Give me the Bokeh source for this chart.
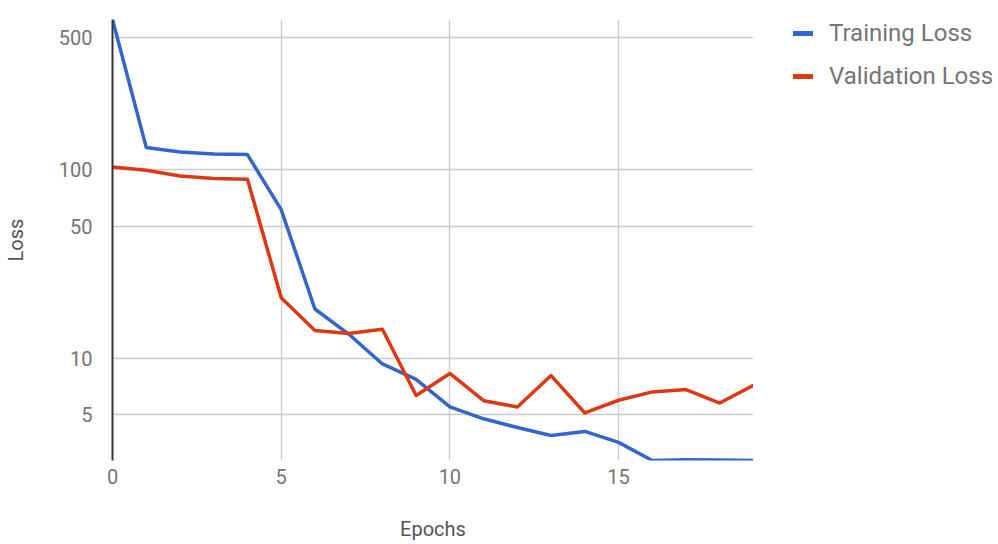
from bokeh.plotting import figure
from bokeh.layouts import row
from bokeh.models import Range1d, FixedTicker, Legend, LegendItem
from bokeh.embed import file_html
from bokeh.resources import INLINE

epochs = list(range(20))
training_loss = [625, 131, 124, 121, 120, 61.3, 18.2, 13.4, 9.3, 7.7,
                 5.5, 4.76, 4.28, 3.88, 4.08, 3.57, 2.86, 2.89, 2.88, 2.86]
validation_loss = [103, 99, 92.4, 89.5, 88.8, 20.9, 14.0, 13.5, 14.2, 6.33,
                   8.28, 5.94, 5.50, 8.07, 5.11, 5.97, 6.61, 6.80, 5.77, 7.17]
series_names = ["Training Loss", "Validation Loss"]
series_colors = ["#3366cc", "#dc3912"]
x_ticks = [0, 5, 10, 15]
y_ticks = [5, 10, 50, 100, 500]
y_tick_labels = ["5", "10", "50", "100", "500"]

FONT = "Roboto"
TXT = "#757575"

lo = min(training_loss + validation_loss)
hi = max(training_loss + validation_loss)

p = figure(width=753, height=544, output_backend="svg", toolbar_location=None,
           title=None,
           y_axis_type="log", x_range=Range1d(0, 19), y_range=Range1d(lo, hi),
           min_border_left=112, min_border_right=0, min_border_top=19,
           min_border_bottom=84)
p.outline_line_color = None

p.line(epochs, training_loss, line_color=series_colors[0], line_width=3.5, line_join="round")
p.line(epochs, validation_loss, line_color=series_colors[1], line_width=3.5, line_join="round")

p.xaxis.ticker = FixedTicker(ticks=x_ticks)
p.yaxis.ticker = FixedTicker(ticks=y_ticks)
p.yaxis.major_label_overrides = {t: l for t, l in zip(y_ticks, y_tick_labels)}
p.xaxis.axis_label = "Epochs"
p.yaxis.axis_label = "Loss"

for ax in (p.xaxis, p.yaxis):
    ax.major_tick_line_color = None
    ax.minor_tick_line_color = None
    ax.major_label_text_font = FONT
    ax.major_label_text_font_size = "20px"
    ax.major_label_text_color = TXT
    ax.axis_label_text_font = FONT
    ax.axis_label_text_font_size = "20px"
    ax.axis_label_text_color = "#555555"
    ax.axis_label_text_font_style = "normal"

p.xaxis.axis_line_color = None
p.yaxis.axis_line_color = "#333333"
p.yaxis.axis_line_width = 2
p.xaxis.major_label_standoff = 2
p.yaxis.major_label_standoff = 14
p.xaxis.axis_label_standoff = 30
p.yaxis.axis_label_standoff = 28

p.xgrid.ticker = FixedTicker(ticks=x_ticks)
p.ygrid.ticker = FixedTicker(ticks=y_ticks)
p.grid.grid_line_color = "#cccccc"
p.grid.grid_line_width = 1.5
p.ygrid.minor_grid_line_color = None

# legend panel to the right of the plot area (its lines fall outside its
# range, so only the legend entries show)
lg = figure(width=245, height=544, output_backend="svg", toolbar_location=None,
            title=None,
            x_range=Range1d(0, 1), y_range=Range1d(0, 1),
            min_border_left=40, min_border_right=0, min_border_top=0,
            min_border_bottom=0, x_axis_location=None, y_axis_location=None)
lg.outline_line_color = None
lg.grid.visible = False
items = []
for name, color, vals in zip(series_names, series_colors,
                             [training_loss, validation_loss]):
    rr = lg.line(epochs, vals, line_color=color, line_width=5, line_cap="round")
    items.append(LegendItem(label=name, renderers=[rr]))

legend = Legend(items=items, location="top_left")
legend.background_fill_alpha = 0
legend.border_line_color = None
legend.label_text_font = FONT
legend.label_text_font_size = "24px"
legend.label_text_color = TXT
legend.glyph_width = 20
legend.glyph_height = 22
legend.label_height = 22
legend.spacing = 15
legend.label_standoff = 16
legend.padding = 0
legend.margin = 0
lg.add_layout(legend, "center")

layout = row(p, lg)
open("out.html", "w").write(file_html(layout, INLINE))
